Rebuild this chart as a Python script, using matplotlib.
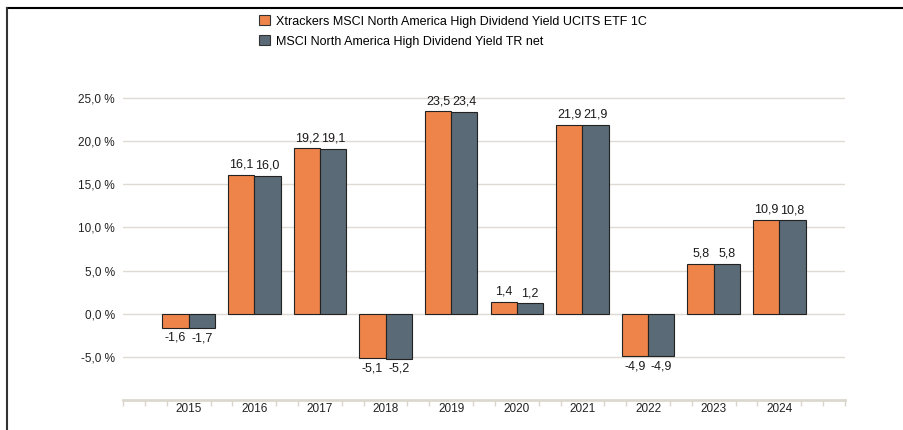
import numpy as np
import matplotlib.pyplot as plt
from matplotlib.lines import Line2D
from matplotlib.patches import Patch

plt.rcParams['font.family'] = ['Liberation Sans', 'DejaVu Sans']

years = ['2015', '2016', '2017', '2018', '2019', '2020', '2021', '2022', '2023', '2024']
etf = [-1.6, 16.1, 19.2, -5.1, 23.5, 1.4, 21.9, -4.9, 5.8, 10.9]
index = [-1.7, 16.0, 19.1, -5.2, 23.4, 1.2, 21.9, -4.9, 5.8, 10.8]
names = ['Xtrackers MSCI North America High Dividend Yield UCITS ETF 1C',
         'MSCI North America High Dividend Yield TR net']

c_etf = '#ee844a'
c_idx = '#5a6a76'
txt = '#222222'

fig = plt.figure(figsize=(9.04, 4.30), dpi=100)
ax = fig.add_axes([123/904, 30/430, 722/904, 345.2/430])

x = np.arange(len(years))
w = 0.4
ax.bar(x - w/2, etf, w, color=c_etf, edgecolor='#222222', linewidth=0.8, zorder=3)
ax.bar(x + w/2, index, w, color=c_idx, edgecolor='#222222', linewidth=0.8, zorder=3)

def fmt(v):
    return f"{v:.1f}".replace('.', ',')

for xs, vals in [(x - w/2, etf), (x + w/2, index)]:
    for xi, v in zip(xs, vals):
        if v >= 0:
            ax.text(xi, v + 0.45, fmt(v), ha='center', va='bottom', fontsize=9, color='#1a1a1a')
        else:
            ax.text(xi, v - 0.5, fmt(v), ha='center', va='top', fontsize=9, color='#1a1a1a')

ax.set_xlim(-1, 10)
ax.set_ylim(-10, 30)

# gridlines
for g in range(-5, 30, 5):
    ax.axhline(g, color='#dedbd4', linewidth=1.0, zorder=1)

ax.set_yticks(range(-5, 30, 5))
ax.set_yticklabels([f"{g:.1f} %".replace('.', ',') for g in range(-5, 30, 5)],
                   fontsize=8.5, color=txt)
ax.tick_params(axis='y', length=0, pad=6)

# x axis: small ticks every third of a category, labels at the centres
minor = [i / 3 for i in range(-3, 31) if i % 3 != 0 or i in (-3, 30)]
ax.set_xticks(minor, minor=True)
ax.set_xticks(x)
ax.set_xticklabels(years, fontsize=8.5, color=txt)
ax.tick_params(axis='x', which='major', length=0, pad=2)
ax.tick_params(axis='x', which='minor', length=4, color='#d9d5cc', width=1)

for s in ['top', 'right', 'left']:
    ax.spines[s].set_visible(False)
ax.spines['bottom'].set_color('#dcd8cf')
ax.spines['bottom'].set_linewidth(2)

handles = [Patch(facecolor=c_etf, edgecolor='#333333', linewidth=0.8),
           Patch(facecolor=c_idx, edgecolor='#333333', linewidth=0.8)]
fig.legend(handles, names, loc='upper left', bbox_to_anchor=(254/904, 1 - 10/430),
           frameon=False, fontsize=9, handlelength=0.9, handleheight=0.9,
           handletextpad=0.5, labelspacing=0.6, borderaxespad=0)

# frame lines of the screenshot
fig.add_artist(Line2D([7/904, 1], [1 - 8/430, 1 - 8/430], color='black', linewidth=1.5))
fig.add_artist(Line2D([7/904, 7/904], [0, 1 - 8/430], color='#333333', linewidth=1.5))

fig.savefig('out.png', dpi=100)
